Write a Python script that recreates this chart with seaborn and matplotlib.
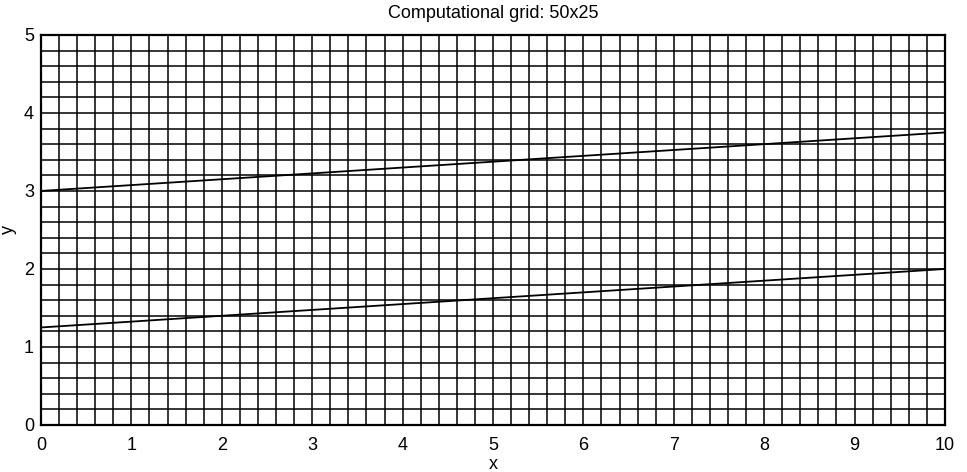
import numpy as np
import pandas as pd
import matplotlib
matplotlib.use("Agg")
import matplotlib.pyplot as plt
import seaborn as sns

# Data
title = "Computational grid: 50x25"
n_x, n_y = 50, 25
x_range = [0, 10]
y_range = [0, 5]
x_ticks = [0, 1, 2, 3, 4, 5, 6, 7, 8, 9, 10]
y_ticks = [0, 1, 2, 3, 4, 5]
upper_x = [0, 10]
upper_y = [3.0, 3.75]
lower_x = [0, 10]
lower_y = [1.25, 2.0]

sns.set_theme(style="white")
plt.rcParams['font.family'] = ['Liberation Sans', 'DejaVu Sans']

fig = plt.figure(figsize=(9.67, 4.72), dpi=100)
ax = fig.add_axes([0.0424, 0.0996, 0.9348, 0.8264])

df = pd.concat([
    pd.DataFrame({"x": upper_x, "y": upper_y, "line": "upper"}),
    pd.DataFrame({"x": lower_x, "y": lower_y, "line": "lower"}),
])
sns.lineplot(data=df, x="x", y="y", units="line", estimator=None,
             color="black", linewidth=1.3, ax=ax, legend=False)

ax.set_xlim(*x_range)
ax.set_ylim(*y_range)
ax.set_xticks(x_ticks)
ax.set_yticks(y_ticks)
ax.set_xticks(np.linspace(x_range[0], x_range[1], n_x + 1), minor=True)
ax.set_yticks(np.linspace(y_range[0], y_range[1], n_y + 1), minor=True)
ax.grid(which="both", color="black", linewidth=1.1)
ax.set_axisbelow(False)
ax.tick_params(which="both", length=0, labelsize=13, colors="black")
ax.tick_params(axis="x", pad=9)
ax.tick_params(axis="y", pad=5)
for s in ax.spines.values():
    s.set_color("black")
    s.set_linewidth(1.6)

ax.set_xlabel("x", fontsize=13, color="black")
ax.xaxis.label.set_va("baseline")
ax.xaxis.set_label_coords(0.5, -0.113)
ax.set_ylabel("y", fontsize=13, labelpad=5, color="black")
ax.set_title(title, fontsize=13, pad=12, color="black")

fig.savefig("out.png", dpi=100)
